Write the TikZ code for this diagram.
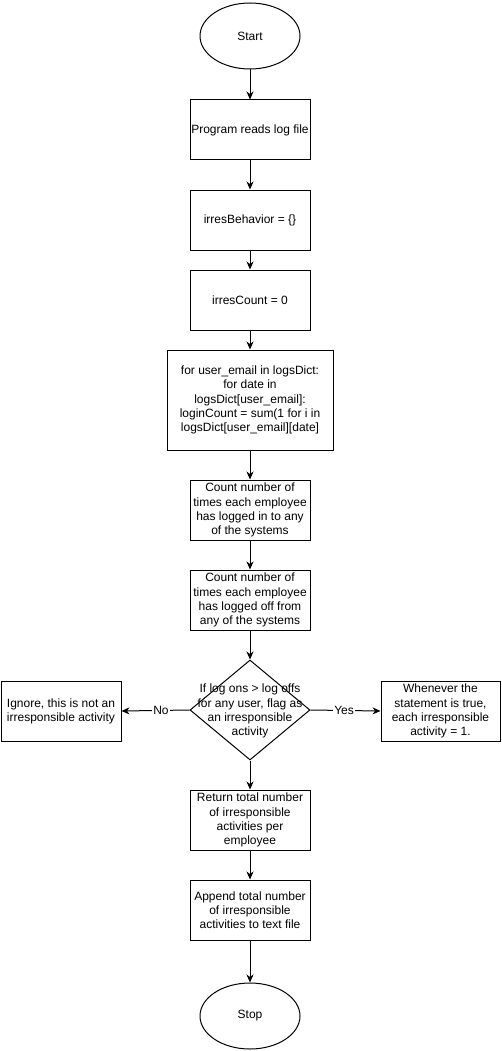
\documentclass[tikz,border=0pt]{standalone}
\usepackage{fontspec}
\setmainfont{Liberation Sans}
\usetikzlibrary{shapes.geometric,arrows.meta}
\begin{document}
\begin{tikzpicture}[x=1pt,y=-1pt,
  every node/.style={font=\fontsize{12}{14.2}\selectfont, align=center, inner sep=0pt},
  box/.style={draw, line width=1pt, minimum width=120pt, minimum height=60pt},
  term/.style={draw, line width=1pt, ellipse, minimum width=100pt, minimum height=66pt},
  dia/.style={draw, line width=1pt, diamond, minimum width=120pt, minimum height=100pt},
  arr/.style={draw, line width=1pt, -{Stealth[length=8pt,width=7pt,inset=2.5pt]}},
  lbl/.style={fill=white, inner sep=1pt}]
\useasboundingbox (0,0) rectangle (502,1051);
\fill[white] (0,0) rectangle (502,1051);
\node[term] (start) at (250,36) {Start};
\node[box] (read) at (250,130) {Program reads log file};
\node[box] (behav) at (250,220) {irresBehavior = \{\}};
\node[box] (count) at (250,300) {irresCount = 0};
\node[box, minimum width=166pt, minimum height=100pt] (loop) at (250,400)
  {for user\_email in logsDict:\\for date in\\logsDict[user\_email]:\\loginCount = sum(1 for i in\\logsDict[user\_email][date]};
\node[box] (login) at (250,510) {Count number of\\times each employee\\has logged in to any\\of the systems};
\node[box] (logoff) at (250,600) {Count number of\\times each employee\\has logged off from\\any of the systems};
\node[dia] (dec) at (250,710) {};
\node (dectext) at (250,711) {If log ons > log offs\\for any user, flag as\\an irresponsible\\activity};
\node[box] (ignore) at (61,711) {Ignore, this is not an\\irresponsible activity};
\node[box, minimum width=119pt] (yesbox) at (440.5,711) {Whenever the\\statement is true,\\each irresponsible\\activity = 1.};
\node[box] (ret) at (250,820) {Return total number\\of irresponsible\\activities per\\employee};
\node[box] (app) at (250,910) {Append total number\\of irresponsible\\activities to text file};
\node[term] (stop) at (250,1016) {Stop};
\draw[arr] (start) -- (read);
\draw[arr] (read) -- (behav);
\draw[arr] (behav) -- (count);
\draw[arr] (count) -- (loop);
\draw[arr] (loop) -- (login);
\draw[arr] (login) -- (logoff);
\draw[arr] (logoff) -- (dec);
\draw[arr] (dec.west) -- node[lbl, pos=0.42] {No} (ignore.east);
\draw[arr] (dec.east) -- node[lbl, pos=0.48] {Yes} (yesbox.west);
\draw[arr] (dec) -- (ret);
\draw[arr] (ret) -- (app);
\draw[arr] (app) -- (stop);
\end{tikzpicture}
\end{document}
